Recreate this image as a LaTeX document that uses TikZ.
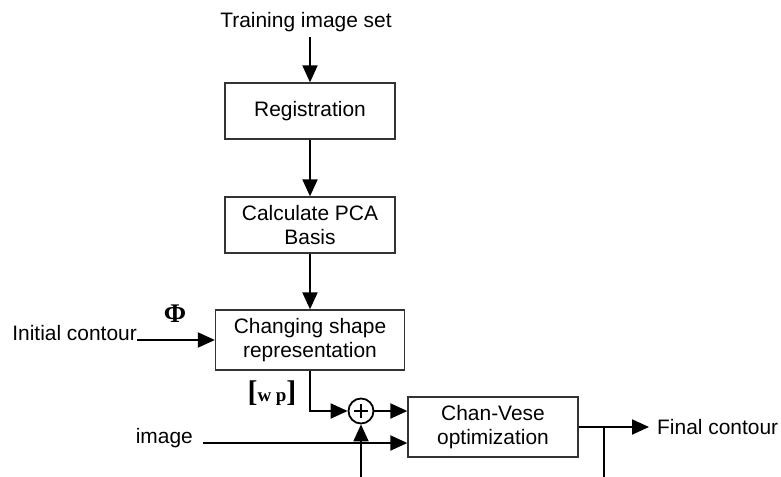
\documentclass[tikz,border=0pt]{standalone}
\usepackage{fontspec}
\setmainfont{Liberation Sans}
\newfontfamily\tnr{Liberation Serif}
\usetikzlibrary{arrows.meta}
\begin{document}
\begin{tikzpicture}[x=1bp,y=-1bp,
  blk/.style={draw=black!80, line width=1.3bp, inner sep=0pt, align=center,
              font=\fontsize{21}{24}\selectfont},
  lbl/.style={inner sep=0pt, font=\fontsize{21}{24}\selectfont},
  flow/.style={line width=2bp, -{Triangle[length=17bp,width=15bp]}},
  wire/.style={line width=2bp},
]
\useasboundingbox (0,0) rectangle (781,477);

% processing blocks
\node[blk, minimum width=170bp, minimum height=56bp] (reg) at (310,111) {Registration};
\node[blk, minimum width=170bp, minimum height=56bp] (pca) at (310,225) {Calculate PCA\\Basis};
\node[blk, minimum width=189bp, minimum height=60bp] (chg) at (310,340) {Changing shape\\representation};
\node[blk, minimum width=170bp, minimum height=60bp] (cv) at (493,427) {Chan-Vese\\optimization};

% inputs and outputs
\node[lbl, anchor=base] (train) at (306,28) {Training image set};
\node[lbl, anchor=base east] (init) at (137,340) {Initial contour};
\node[lbl, anchor=base east] (img) at (193,443) {image};
\node[lbl, anchor=west] (final) at (657,427) {Final contour};

% symbols
\node[inner sep=0pt, anchor=base, font=\tnr\bfseries\fontsize{27}{27}\selectfont] (phi) at (175,322) {Φ};
\node[inner sep=0pt, anchor=base, font=\tnr\bfseries] (wp) at (272,401)
  {\fontsize{30}{30}\selectfont[\fontsize{19}{19}\selectfont w p\fontsize{30}{30}\selectfont]};

% summing junction
\node[draw, circle, line width=1.8bp, minimum size=25bp, inner sep=0pt] (sum) at (361,411) {};
\draw[line width=1.6bp] ([xshift=-7bp]sum.center) -- ([xshift=7bp]sum.center)
                        ([yshift=-7bp]sum.center) -- ([yshift=7bp]sum.center);

% loose ends of the feedback lines
\coordinate (fb) at (361,477);
\coordinate (tap) at (604,427);
\coordinate (tapend) at (604,477);

% connectors
\draw[flow] ([yshift=-9bp]reg.north |- train.base) -- (reg.north);
\draw[flow] (reg) -- (pca);
\draw[flow] (pca) -- (chg);
\draw[flow] (init.base east) -- (chg.west |- init.base east);
\draw[flow] (chg.south) |- (sum.west);
\draw[flow] (sum.east) -- (cv.west |- sum.east);
\draw[flow] ([xshift=10bp]img.base east) -- (cv.west |- img.base east);
\draw[flow] (fb) -- (sum.south);
\draw[flow] (cv.east) -- ([xshift=-8bp]final.west);
\draw[wire] (tap) -- (tapend);
\end{tikzpicture}
\end{document}
